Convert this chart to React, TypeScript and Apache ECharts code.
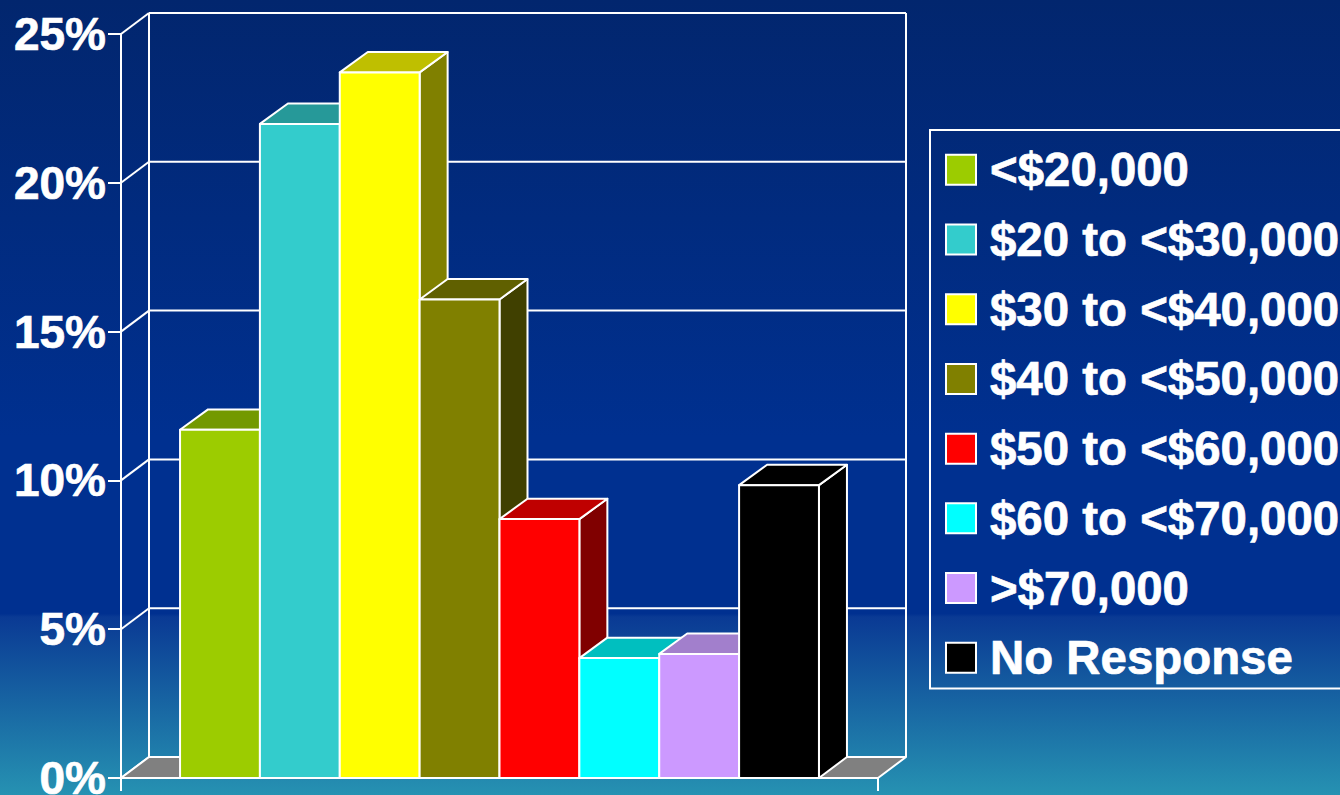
import React, { useEffect, useRef } from "react";
import * as echarts from "echarts";

const incomeBands = ["<$20,000", "$20 to <$30,000", "$30 to <$40,000", "$40 to <$50,000", "$50 to <$60,000", "$60 to <$70,000", ">$70,000", "No Response"];
const percents = [11.7, 21.98, 23.71, 16.08, 8.7, 4.03, 4.17, 9.84];
const frontColors = ["#9CCC00", "#33CCCC", "#FFFF00", "#808000", "#FF0000", "#00FFFF", "#CC99FF", "#000000"];
const topColors = ["#739900", "#269999", "#BFBF00", "#606000", "#BF0000", "#00BFBF", "#A27FCC", "#000000"];
const sideColors = ["#4D6600", "#196666", "#808000", "#404000", "#800000", "#008080", "#664D80", "#000000"];
const wallTicks = [0, 5, 10, 15, 20, 25];

const DX = 28;
const DY = -21;
const BAR_DY = -20.4;
const BAR_SHARE = 0.1055;
const WHITE = "#FFFFFF";
const FONT = '"Liberation Sans", Arial, sans-serif';

const line = (x1: number, y1: number, x2: number, y2: number) => ({
  type: "line",
  shape: { x1, y1, x2, y2 },
  style: { stroke: WHITE, lineWidth: 2, fill: "none" },
});

const poly = (points: number[][], fill: string) => ({
  type: "polygon",
  shape: { points },
  style: { fill, stroke: WHITE, lineWidth: 2, lineJoin: "round" },
});

const renderWall = (params: any, api: any) => {
  const cs = params.coordSys;
  const v = api.value(1);
  const [, y] = api.coord([0, v]);
  const l = cs.x;
  const r = cs.x + cs.width;
  const children: any[] = [
    line(l, y, l + DX, y + DY),
    line(l + DX, y + DY, r + DX, y + DY),
  ];
  if (v === 0) {
    children.push(poly([[l, y], [l + DX, y + DY], [r + DX, y + DY], [r, y]], "#808080"));
    const [, top] = api.coord([0, wallTicks[wallTicks.length - 1]]);
    children.push(line(l + DX, y + DY, l + DX, top + DY));
    children.push(line(r + DX, y + DY, r + DX, top + DY));
  }
  return { type: "group", children };
};

const renderBar = (index: number) => (params: any, api: any) => {
  const band = params.coordSys.width;
  const w = band * BAR_SHARE;
  const [cx, y] = api.coord([0, api.value(1)]);
  const [, y0] = api.coord([0, 0]);
  const x = cx - (w * incomeBands.length) / 2 + index * w;
  return {
    type: "group",
    children: [
      poly([[x + w, y], [x + w + DX, y + BAR_DY], [x + w + DX, y0 + DY], [x + w, y0]], sideColors[index]),
      poly([[x, y], [x + DX, y + BAR_DY], [x + w + DX, y + BAR_DY], [x + w, y]], topColors[index]),
      poly([[x, y], [x + w, y], [x + w, y0], [x, y0]], frontColors[index]),
    ],
  };
};

export default function App() {
  const ref = useRef<HTMLDivElement>(null);
  useEffect(() => {
    document.body.style.margin = "0";
    const chart = echarts.init(ref.current!, undefined, { renderer: "svg" });
    chart.setOption({
      animation: false,
      backgroundColor: {
        type: "linear", x: 0, y: 0, x2: 0, y2: 1,
        colorStops: [
          { offset: 0, color: "#02266E" },
          { offset: 0.55, color: "#003090" },
          { offset: 0.772, color: "#003090" },
          { offset: 0.776, color: "#0A3A94" },
          { offset: 1, color: "#2692B2" },
        ],
      },
      grid: { left: 121, right: 462, top: 34, bottom: 17, containLabel: false, outerBoundsMode: "none" },
      xAxis: {
        type: "category",
        data: [""],
        axisLine: { show: true, lineStyle: { color: WHITE, width: 2 } },
        axisTick: { show: true, length: 13, lineStyle: { color: WHITE, width: 2 } },
        axisLabel: { show: false },
        splitLine: { show: false },
      },
      yAxis: {
        type: "value",
        min: 0,
        max: 25,
        interval: 5,
        axisLine: { show: true, lineStyle: { color: WHITE, width: 2 } },
        axisTick: { show: true, length: 13, lineStyle: { color: WHITE, width: 2 } },
        axisLabel: {
          formatter: "{value}%",
          color: WHITE,
          fontFamily: FONT,
          fontWeight: "bold",
          fontSize: 46,
          margin: 15,
          textBorderColor: WHITE,
          textBorderWidth: 0.7,
        },
        splitLine: { show: false },
      },
      legend: {
        orient: "vertical",
        left: 930,
        top: 130,
        padding: [16, 12, 7, 15],
        borderColor: WHITE,
        borderWidth: 2,
        itemWidth: 30,
        itemHeight: 30,
        itemGap: 22,
        icon: "rect",
        selectedMode: false,
        textStyle: {
          color: WHITE,
          fontFamily: FONT,
          fontWeight: "bold",
          fontSize: 47.4,
          lineHeight: 47,
          padding: [0, 0, 0, 9],
          textBorderColor: WHITE,
          textBorderWidth: 0.7,
        },
        data: incomeBands.map((name, i) => ({
          name,
          itemStyle: { color: frontColors[i], borderColor: WHITE, borderWidth: 2 },
        })),
      },
      series: [
        {
          type: "custom",
          name: "wall",
          z: 1,
          silent: true,
          clip: false,
          renderItem: renderWall,
          encode: { x: 0, y: 1 },
          data: wallTicks.map((t) => [0, t]),
        },
        ...incomeBands.map((name, i) => ({
          type: "custom",
          name,
          z: 2 + i,
          silent: true,
          clip: false,
          renderItem: renderBar(i),
          encode: { x: 0, y: 1 },
          itemStyle: { color: frontColors[i] },
          data: [[0, percents[i]]],
        })),
      ],
    });
    return () => chart.dispose();
  }, []);
  return <div ref={ref} style={{ width: 1340, height: 795 }} />;
}
